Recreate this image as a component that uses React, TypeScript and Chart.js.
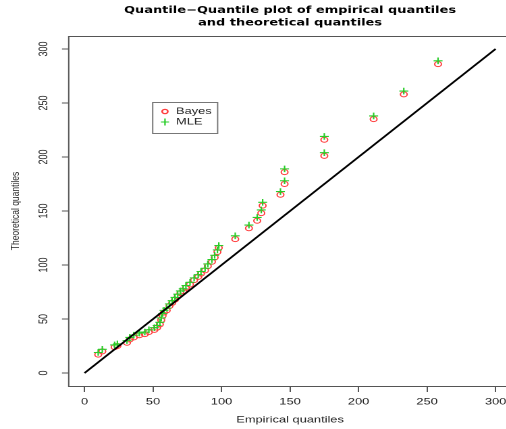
import React, { useEffect, useRef } from "react";
import { Chart, registerables } from "chart.js";

Chart.register(...registerables);

// ---- data ----
const empirical = [10, 13, 22, 24, 31, 33, 36, 40, 44, 47, 51, 53, 55, 56, 57, 58, 60, 62, 64, 66, 68, 70, 72, 74, 77, 80, 83, 85, 88, 90, 93, 95, 97, 98, 110, 120, 126, 129, 130, 143, 146, 146, 175, 175, 211, 233, 258];
const bayes = [17, 20, 24, 25, 28, 31, 33, 35, 36, 38, 40, 42, 45, 49, 53, 56, 58, 62, 65, 68, 71, 74, 76, 79, 82, 86, 89, 92, 95, 99, 103, 107, 112, 116, 124, 134, 141, 148, 155, 165, 175, 186, 201, 216, 235, 258, 286];
const mle = [19, 22, 26, 27, 30, 33, 35, 37, 38, 40, 42, 44, 47, 51, 55, 58, 60, 64, 67, 70, 73, 76, 78, 81, 84, 88, 91, 94, 97, 101, 105, 109, 114, 118, 127, 137, 144, 151, 158, 168, 178, 189, 204, 219, 238, 261, 289];
const refLine = [0, 300];
const xTicks = [0, 50, 100, 150, 200, 250, 300];
const yTicks = [0, 50, 100, 150, 200, 250, 300];
const titleLines = ["Quantile\u2212Quantile plot of empirical quantiles", "and theoretical quantiles"];
const xTitle = "Empirical quantiles";
const yTitle = "Theoretical quantiles";
const legendLabels = ["Bayes", "MLE"];

// ---- style ----
const STRETCH = 1.35;
const W0 = 385;
const H = 429;
const FONT = '"Liberation Sans", Arial, Helvetica, sans-serif';
const TITLE_FONT = '"DejaVu Sans", "Liberation Sans", Arial, sans-serif';
const RED = "rgb(255,60,60)";
const GREEN = "rgb(40,205,40)";
const AXIS = "#555";

const decor = {
  id: "decor",
  afterDraw(chart: any) {
    const { ctx, chartArea: a, scales } = chart;
    const ys = scales.y;
    ctx.save();
    // frame
    ctx.strokeStyle = AXIS;
    ctx.lineWidth = 1;
    ctx.strokeRect(a.left + 0.5, a.top + 0.5, a.right - a.left, a.bottom - a.top);

    // rotated y tick labels
    ctx.fillStyle = "#222";
    ctx.font = `9px ${FONT}`;
    ctx.textAlign = "center";
    ctx.textBaseline = "middle";
    yTicks.forEach((v) => {
      const py = ys.getPixelForValue(v);
      ctx.save();
      ctx.translate(32.5, py);
      ctx.rotate(-Math.PI / 2);
      ctx.fillText(String(v), 0, 0);
      ctx.restore();
    });

    // y title
    ctx.save();
    ctx.font = `8.5px ${FONT}`;
    ctx.translate(11.5, (a.top + a.bottom) / 2);
    ctx.rotate(-Math.PI / 2);
    ctx.fillText(yTitle, 0, 0);
    ctx.restore();

    const cx = (a.left + a.right) / 2;
    // main title
    ctx.fillStyle = "#000";
    ctx.font = `bold 9.6px ${TITLE_FONT}`;
    ctx.fillText(titleLines[0], cx, 10.5);
    ctx.fillText(titleLines[1], cx, 23);

    // x title
    ctx.fillStyle = "#222";
    ctx.font = `9.5px ${FONT}`;
    ctx.fillText(xTitle, cx, 420);

    // legend
    const lx0 = 112.6, lx1 = 160.7, ly0 = 102, ly1 = 133;
    ctx.strokeStyle = "#777";
    ctx.lineWidth = 1;
    ctx.strokeRect(lx0 + 0.5, ly0 + 0.5, lx1 - lx0, ly1 - ly0);
    const sx = 122.2;
    const rows = [111.5, 122];
    // Bayes circle
    ctx.strokeStyle = RED;
    ctx.lineWidth = 1.3;
    ctx.beginPath();
    ctx.arc(sx, rows[0], 2.1, 0, Math.PI * 2);
    ctx.stroke();
    // MLE cross
    ctx.strokeStyle = GREEN;
    ctx.lineWidth = 1.1;
    ctx.beginPath();
    ctx.moveTo(sx - 3, rows[1]);
    ctx.lineTo(sx + 3, rows[1]);
    ctx.moveTo(sx, rows[1] - 3.5);
    ctx.lineTo(sx, rows[1] + 3.5);
    ctx.stroke();
    ctx.fillStyle = "#222";
    ctx.font = `9.5px ${FONT}`;
    ctx.textAlign = "left";
    ctx.fillText(legendLabels[0], 130.4, rows[0]);
    ctx.fillText(legendLabels[1], 130.4, rows[1]);
    ctx.restore();
  },
};

export default function App() {
  const ref = useRef<HTMLCanvasElement>(null);

  useEffect(() => {
    if (!ref.current) return;
    const chart = new Chart(ref.current, {
      type: "scatter",
      data: {
        datasets: [
          {
            type: "line",
            label: "ref",
            data: refLine.map((v) => ({ x: v, y: v })),
            borderColor: "#000",
            borderWidth: 1.6,
            pointRadius: 0,
            showLine: true,
            fill: false,
            order: 0,
          } as any,
          {
            label: legendLabels[0],
            data: empirical.map((x, i) => ({ x, y: bayes[i] })),
            pointStyle: "circle",
            pointRadius: 2.5,
            pointBorderWidth: 1,
            pointBackgroundColor: "rgba(0,0,0,0)",
            pointBorderColor: RED,
            borderColor: RED,
            showLine: false,
            order: 2,
          },
          {
            label: legendLabels[1],
            data: empirical.map((x, i) => ({ x, y: mle[i] })),
            pointStyle: "cross",
            pointRadius: 3.3,
            pointBorderWidth: 1.1,
            pointBorderColor: GREEN,
            borderColor: GREEN,
            showLine: false,
            order: 1,
          },
        ],
      },
      options: {
        animation: false,
        responsive: false,
        devicePixelRatio: 2,
        layout: { padding: { top: 36, right: 5.7, left: 0, bottom: 0 } },
        plugins: {
          legend: { display: false },
          tooltip: { enabled: false },
          title: { display: false },
        },
        scales: {
          x: {
            type: "linear",
            min: -12,
            max: 312,
            afterBuildTicks: (s: any) => {
              s.ticks = xTicks.map((v) => ({ value: v }));
            },
            afterFit: (s: any) => {
              s.height = 43;
            },
            border: { display: false },
            grid: {
              display: true,
              drawOnChartArea: false,
              drawTicks: true,
              tickLength: 6,
              color: AXIS,
              lineWidth: 1,
            },
            ticks: {
              padding: 4,
              color: "#222",
              font: { family: FONT, size: 9.5 },
              maxRotation: 0,
              minRotation: 0,
            },
          },
          y: {
            type: "linear",
            min: -12,
            max: 312,
            afterBuildTicks: (s: any) => {
              s.ticks = yTicks.map((v) => ({ value: v }));
            },
            afterFit: (s: any) => {
              s.width = 50.4;
            },
            border: { display: false },
            grid: {
              display: true,
              drawOnChartArea: false,
              drawTicks: true,
              tickLength: 4.5,
              color: AXIS,
              lineWidth: 1,
            },
            ticks: { display: false },
          },
        },
      },
      plugins: [decor],
    });
    return () => chart.destroy();
  }, []);

  return (
    <div
      style={{
        position: "fixed",
        left: 0,
        top: 0,
        width: 506,
        height: 429,
        overflow: "hidden",
        background: "#fff",
      }}
    >
      <div
        style={{
          width: W0,
          height: H,
          transform: `scaleX(${STRETCH})`,
          transformOrigin: "0 0",
        }}
      >
        <canvas ref={ref} width={W0} height={H} style={{ display: "block" }} />
      </div>
    </div>
  );
}
